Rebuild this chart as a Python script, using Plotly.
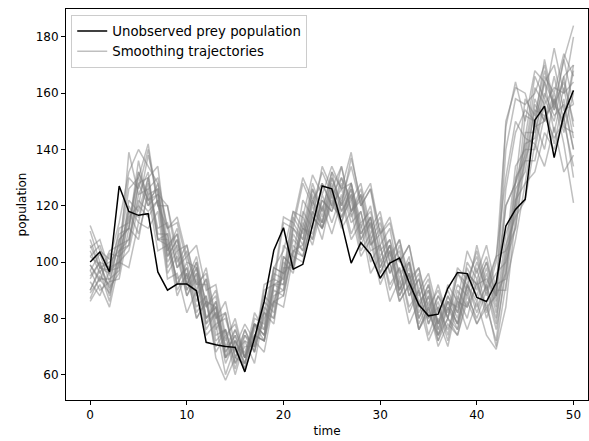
import plotly.graph_objects as go

# time steps
time = list(range(51))

# latent prey population (hidden state)
prey = [100, 103.6, 96.5, 127, 118, 116.6, 117.2, 96.5, 90.0, 92.2,
        92.2, 89.8, 71.5, 70.6, 70.0, 69.7, 61.0, 73, 86, 104.2,
        112.2, 97.5, 99.2, 113, 127, 126, 114, 99.6, 106.9, 102.8,
        94.3, 99.6, 101.4, 92.7, 84.8, 80.9, 81.5, 90.7, 96.3, 95.9,
        87.4, 86.0, 92.7, 112.8, 118.7, 122.3, 150.4, 155.4, 137.1, 152.4,
        161.0]

# sampled smoothing trajectories
traj_01 = [113, 104, 101, 114, 132, 140, 134, 128, 112, 114, 100, 98, 86, 84, 70, 72, 66, 76, 82, 98, 104, 118, 116, 131, 124, 134, 126, 128, 114, 118, 104, 108, 96, 100, 86, 90, 78, 86, 84, 96, 92, 94, 88, 140, 158, 156, 160, 170, 154, 166, 170]
traj_02 = [86, 92, 84, 100, 98, 114, 112, 118, 94, 96, 82, 90, 74, 78, 60, 70, 68, 78, 76, 92, 94, 108, 104, 120, 112, 124, 112, 118, 102, 108, 92, 100, 86, 92, 76, 82, 74, 80, 76, 90, 78, 84, 72, 100, 112, 136, 136, 152, 144, 150, 134]
traj_03 = [95, 100, 88, 102, 106, 124, 126, 130, 112, 116, 102, 106, 90, 92, 74, 78, 66, 74, 72, 86, 88, 104, 106, 118, 114, 126, 122, 134, 120, 126, 110, 114, 100, 106, 90, 96, 82, 90, 82, 96, 92, 100, 88, 120, 128, 142, 144, 164, 156, 172, 156]
traj_04 = [106, 98, 100, 104, 126, 130, 142, 120, 112, 98, 102, 92, 92, 74, 76, 64, 70, 70, 90, 92, 114, 112, 128, 120, 132, 124, 130, 118, 122, 106, 110, 96, 102, 88, 94, 80, 88, 82, 98, 94, 102, 88, 100, 148, 164, 150, 168, 164, 170, 154, 156]
traj_05 = [90, 98, 96, 106, 108, 122, 118, 122, 98, 104, 88, 96, 78, 86, 70, 76, 66, 78, 74, 90, 88, 106, 102, 116, 112, 122, 114, 124, 106, 114, 96, 104, 88, 96, 78, 86, 72, 84, 78, 92, 84, 92, 80, 102, 118, 146, 146, 160, 152, 156, 140]
traj_06 = [99, 94, 94, 97, 116, 120, 138, 124, 120, 104, 106, 92, 96, 80, 82, 66, 74, 68, 82, 80, 98, 98, 112, 108, 122, 118, 130, 122, 128, 112, 118, 102, 108, 94, 98, 84, 90, 80, 92, 88, 100, 90, 102, 104, 134, 140, 162, 156, 162, 160, 164]
traj_07 = [108, 98, 97, 100, 139, 124, 132, 108, 106, 94, 98, 84, 88, 72, 76, 62, 74, 70, 92, 94, 116, 114, 130, 122, 128, 120, 126, 114, 118, 104, 106, 92, 98, 84, 90, 78, 88, 80, 96, 92, 104, 90, 96, 100, 130, 136, 154, 152, 156, 150, 168]
traj_08 = [87, 95, 92, 108, 112, 132, 124, 126, 102, 108, 92, 100, 84, 88, 68, 74, 62, 72, 68, 86, 84, 102, 100, 118, 108, 124, 114, 128, 112, 120, 102, 108, 92, 100, 82, 90, 76, 86, 78, 92, 86, 96, 82, 106, 116, 144, 142, 158, 150, 166, 148]
traj_09 = [102, 106, 95, 112, 114, 132, 122, 124, 100, 106, 90, 98, 80, 84, 66, 76, 66, 82, 76, 98, 96, 116, 110, 126, 116, 130, 120, 137, 122, 128, 110, 116, 100, 106, 88, 94, 78, 88, 82, 100, 94, 102, 88, 150, 162, 160, 148, 166, 160, 174, 166]
traj_10 = [97, 90, 93, 94, 112, 108, 126, 108, 108, 90, 96, 80, 86, 68, 74, 60, 72, 64, 82, 78, 100, 96, 114, 106, 120, 110, 122, 108, 114, 96, 102, 86, 94, 78, 86, 72, 80, 70, 86, 76, 86, 74, 69, 84, 116, 122, 142, 134, 148, 132, 138]
traj_11 = [104, 96, 104, 106, 130, 126, 140, 120, 120, 100, 106, 90, 98, 80, 86, 70, 78, 72, 88, 84, 106, 102, 122, 116, 134, 126, 134, 118, 126, 110, 116, 100, 108, 92, 98, 82, 92, 80, 96, 90, 106, 92, 102, 130, 150, 144, 166, 158, 176, 160, 180]
traj_12 = [90, 97, 86, 104, 106, 128, 120, 128, 104, 110, 92, 98, 80, 86, 66, 72, 64, 74, 72, 92, 92, 112, 106, 124, 114, 128, 118, 126, 110, 116, 100, 106, 90, 98, 80, 88, 74, 86, 78, 96, 88, 98, 84, 110, 120, 152, 150, 164, 146, 162, 144]
traj_13 = [111, 100, 98, 100, 120, 114, 130, 110, 110, 92, 100, 86, 94, 76, 82, 66, 76, 68, 84, 80, 102, 98, 118, 112, 128, 120, 134, 118, 124, 106, 112, 96, 106, 90, 96, 78, 86, 74, 90, 84, 98, 82, 92, 94, 126, 132, 156, 150, 166, 150, 170]
traj_14 = [94, 100, 90, 104, 108, 128, 130, 134, 106, 110, 90, 96, 78, 82, 64, 72, 64, 78, 74, 96, 94, 114, 108, 122, 112, 126, 116, 126, 108, 116, 98, 106, 90, 96, 80, 88, 74, 84, 76, 92, 82, 92, 78, 104, 112, 140, 140, 156, 142, 158, 140]
traj_15 = [105, 108, 97, 110, 112, 130, 122, 126, 104, 112, 94, 102, 84, 90, 72, 80, 66, 78, 72, 92, 90, 110, 104, 122, 114, 130, 120, 128, 110, 116, 98, 106, 90, 100, 84, 92, 78, 92, 86, 104, 96, 106, 90, 120, 128, 158, 152, 168, 154, 172, 184]
traj_16 = [99, 93, 103, 102, 118, 110, 124, 104, 106, 88, 96, 80, 86, 70, 76, 64, 76, 68, 86, 82, 102, 98, 116, 108, 124, 114, 124, 110, 118, 100, 106, 90, 98, 82, 90, 74, 84, 72, 88, 80, 94, 80, 90, 90, 122, 128, 150, 140, 158, 142, 121]
traj_17 = [97, 103, 93, 108, 112, 136, 120, 124, 102, 108, 92, 100, 80, 84, 66, 70, 62, 78, 74, 94, 92, 112, 108, 126, 118, 132, 126, 139, 120, 126, 106, 112, 94, 102, 84, 92, 76, 88, 80, 98, 90, 100, 86, 126, 146, 154, 150, 172, 156, 164, 150]
traj_18 = [93, 88, 97, 98, 122, 118, 130, 108, 110, 92, 98, 82, 88, 66, 58, 66, 64, 80, 78, 98, 96, 118, 112, 128, 118, 132, 118, 124, 108, 114, 96, 104, 88, 96, 76, 84, 70, 78, 74, 88, 80, 90, 76, 96, 122, 136, 148, 150, 158, 148, 146]
traj_19 = [102, 99, 91, 96, 118, 116, 128, 112, 114, 98, 104, 88, 94, 78, 80, 68, 72, 70, 80, 86, 96, 100, 112, 110, 122, 118, 128, 116, 124, 108, 114, 100, 104, 88, 94, 80, 84, 76, 86, 84, 92, 84, 88, 96, 128, 138, 158, 150, 160, 146, 160]
traj_20 = [89, 94, 89, 100, 104, 120, 116, 122, 96, 102, 88, 94, 76, 82, 68, 74, 66, 74, 72, 88, 90, 104, 102, 116, 112, 120, 116, 122, 104, 110, 94, 100, 86, 92, 76, 84, 72, 80, 74, 86, 78, 86, 70, 92, 108, 128, 132, 146, 140, 152, 130]

trajectories = [traj_01, traj_02, traj_03, traj_04, traj_05, traj_06, traj_07,
                traj_08, traj_09, traj_10, traj_11, traj_12, traj_13, traj_14,
                traj_15, traj_16, traj_17, traj_18, traj_19, traj_20]

FONT = "DejaVu Sans, Liberation Sans, sans-serif"

fig = go.Figure()

for i, tr in enumerate(trajectories):
    fig.add_trace(go.Scatter(
        x=time, y=tr, mode="lines",
        line=dict(color="#808080", width=1.5),
        opacity=0.5,
        name="Smoothing trajectories",
        legendgroup="smooth",
        showlegend=(i == 0),
        legendrank=2,
        hoverinfo="skip",
    ))

fig.add_trace(go.Scatter(
    x=time, y=prey, mode="lines",
    line=dict(color="black", width=1.5),
    name="Unobserved prey population",
    legendrank=1,
))

axis_common = dict(
    showgrid=False, zeroline=False,
    showline=True, linecolor="black", linewidth=1, mirror=True,
    ticks="outside", ticklen=4, tickwidth=1, tickcolor="black",
    tickfont=dict(family=FONT, size=12, color="black"),
)

fig.update_layout(
    width=589, height=441,
    margin=dict(l=66, r=1, t=9, b=41),
    paper_bgcolor="white", plot_bgcolor="white",
    font=dict(family=FONT, size=12, color="black"),
    xaxis=dict(range=[-2.5, 51.5], tickvals=[0, 10, 20, 30, 40, 50],
               title=dict(text="time", standoff=5,
                          font=dict(family=FONT, size=12)),
               **axis_common),
    yaxis=dict(range=[51.0, 189.9], tickvals=[60, 80, 100, 120, 140, 160, 180],
               title=dict(text="population", standoff=6,
                          font=dict(family=FONT, size=12)),
               **axis_common),
    legend=dict(
        x=0.01, y=0.985, xanchor="left", yanchor="top",
        bgcolor="rgba(255,255,255,0.8)", bordercolor="#cccccc", borderwidth=1,
        font=dict(family=FONT, size=13.3, color="black"),
        itemwidth=30, tracegroupgap=0,
    ),
    showlegend=True,
)

fig.write_html("out.html")
